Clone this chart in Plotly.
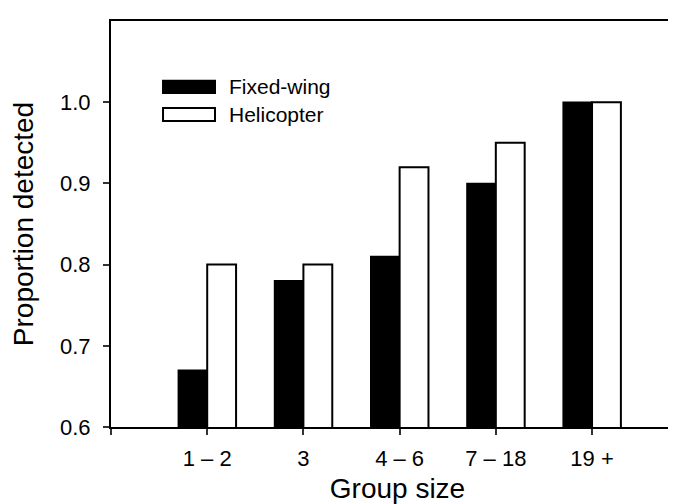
import plotly.graph_objects as go

categories = ["1 – 2", "3", "4 – 6", "7 – 18", "19 +"]
fixed_wing = [0.67, 0.78, 0.81, 0.90, 1.00]
helicopter = [0.80, 0.80, 0.92, 0.95, 1.00]
series_names = ["Fixed-wing", "Helicopter"]
y_ticks = [0.6, 0.7, 0.8, 0.9, 1.0]

xpos = list(range(1, len(categories) + 1))
FONT = "Liberation Sans, Arial, sans-serif"

fig = go.Figure()
fig.add_trace(go.Bar(x=xpos, y=fixed_wing, name=series_names[0],
                     marker=dict(color="black", line=dict(color="black", width=1.5)),
                     showlegend=False))
fig.add_trace(go.Bar(x=xpos, y=helicopter, name=series_names[1],
                     marker=dict(color="white", line=dict(color="black", width=2)),
                     showlegend=False))

# legend drawn manually (wide swatches as in the reference)
sw_x0, sw_x1 = 0.0908, 0.1815
rows = [(0.8227, 0.853, "black"), (0.7537, 0.7857, "white")]
for (y0, y1, col), name in zip(rows, series_names):
    fig.add_shape(type="rect", xref="paper", yref="paper", x0=sw_x0, x1=sw_x1, y0=y0, y1=y1,
                  fillcolor=col, line=dict(color="black", width=2))
    fig.add_annotation(xref="paper", yref="paper", x=0.2024, y=(y0 + y1) / 2,
                       text=name, showarrow=False, xanchor="left", yanchor="middle",
                       font=dict(family=FONT, size=21, color="black"))

fig.update_layout(
    width=676, height=504,
    margin=dict(l=103, r=0, t=13, b=85),
    paper_bgcolor="white", plot_bgcolor="white",
    barmode="group", bargap=0.4, bargroupgap=0,
    font=dict(family=FONT, color="black"),
)
fig.update_xaxes(
    range=[0, 5.956],
    tickvals=[0] + xpos, ticktext=[""] + categories,
    ticks="outside", ticklen=6, tickwidth=1.5, tickcolor="#333",
    showline=True, linecolor="black", linewidth=2, mirror=True,
    showgrid=False, zeroline=False,
    tickfont=dict(family=FONT, size=22, color="black"),
    ticklabelstandoff=5,
    title=dict(text="Group size", font=dict(family=FONT, size=28, color="black"), standoff=8),
)
fig.update_yaxes(
    range=[0.6, 1.1],
    tickvals=y_ticks, tickformat=".1f",
    ticks="outside", ticklen=6, tickwidth=1.5, tickcolor="#333",
    showline=True, linecolor="black", linewidth=2, mirror=False,
    showgrid=False, zeroline=False,
    tickfont=dict(family=FONT, size=22, color="black"),
    ticklabelstandoff=8,
    title=dict(text="Proportion detected", font=dict(family=FONT, size=28, color="black"), standoff=20),
)

fig.write_html("out.html")
